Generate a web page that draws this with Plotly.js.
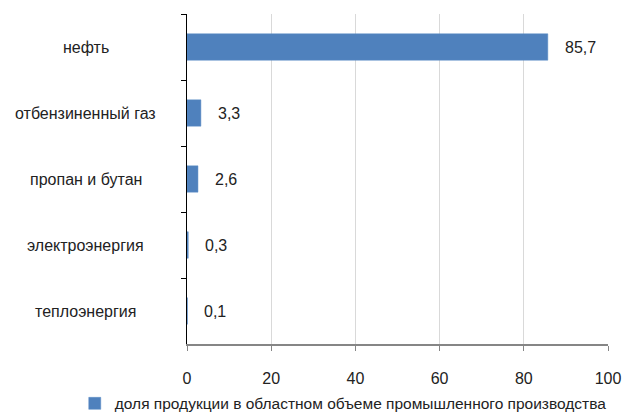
<!DOCTYPE html>
<html>
<head>
<meta charset="utf-8">
<script src="https://cdn.plot.ly/plotly-3.0.1.min.js"></script>
<style>html,body{margin:0;padding:0;background:#fff;}#chart{width:623px;height:412px;}</style>
</head>
<body>
<div id="chart"></div>
<script>
var categories = ["нефть", "отбензиненный газ", "пропан и бутан", "электроэнергия", "теплоэнергия"];
var values = [85.7, 3.3, 2.6, 0.3, 0.1];
var seriesName = "доля продукции в областном объеме промышленного производства";
var xTicks = [0, 20, 40, 60, 80, 100];

var font = "Liberation Sans, Arial, sans-serif";

var trace = {
  type: "bar",
  orientation: "h",
  x: values,
  y: categories,
  name: seriesName,
  marker: {color: "#4F81BD", line: {color: "#5B8CC6", width: 0.5}},
  showlegend: true,
  hoverinfo: "none"
};

var annotations = [];
categories.forEach(function (c, i) {
  annotations.push({
    xref: "x", yref: "y", x: values[i], y: c,
    text: String(values[i]).replace(".", ","),
    showarrow: false, xanchor: "left", xshift: 15,
    font: {family: font, size: 16, color: "#222"}
  });
  annotations.push({
    xref: "paper", yref: "y", x: -0.24, y: c,
    text: c, showarrow: false, xanchor: "center",
    font: {family: font, size: 16, color: "#222"}
  });
});

var layout = {
  width: 623, height: 412,
  margin: {l: 187, r: 15, t: 14, b: 68, autoexpand: false},
  paper_bgcolor: "#fff", plot_bgcolor: "#fff",
  font: {family: font, size: 16, color: "#222"},
  bargap: 0.6,
  xaxis: {
    range: [0, 100], tickvals: xTicks, ticktext: xTicks.map(String),
    showgrid: true, gridcolor: "#d9d9d9", gridwidth: 1,
    zeroline: false, showline: true, linecolor: "#868686", linewidth: 2,
    ticks: "outside", ticklen: 5, tickcolor: "#868686", tickwidth: 1,
    ticklabelstandoff: 14,
    tickfont: {family: font, size: 16, color: "#222"},
    fixedrange: true
  },
  yaxis: {
    type: "category", categoryorder: "array", categoryarray: categories,
    autorange: "reversed",
    showticklabels: false, tickson: "boundaries",
    ticks: "outside", ticklen: 5, tickcolor: "#000", tickwidth: 1,
    showline: true, linecolor: "#000", linewidth: 1.5,
    showgrid: false, zeroline: false, fixedrange: true
  },
  legend: {
    orientation: "h", xref: "container", yref: "container",
    x: 0.12, xanchor: "left", y: 0.02, yanchor: "middle",
    font: {family: font, size: 15.5, color: "#222"},
    itemwidth: 30, bgcolor: "rgba(0,0,0,0)"
  },
  annotations: annotations
};

Plotly.newPlot("chart", [trace], layout, {staticPlot: true, displayModeBar: false});
</script>
</body>
</html>
